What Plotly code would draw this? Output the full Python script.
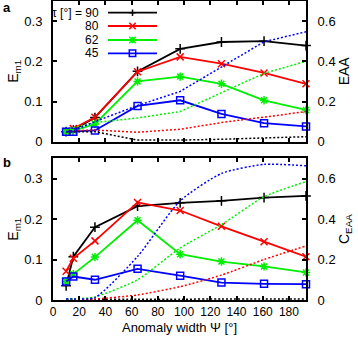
import plotly.graph_objects as go

# ---------------- data ----------------
psi = [10, 15.5, 32, 64.5, 97, 128.5, 161, 193]
tau_labels = ["τ [°] = 90", "80", "62", "45"]

# panel a: E_m1 (left, solid) and EAA (right, dotted)
em1_a_90 = [0.025, 0.029, 0.060, 0.175, 0.231, 0.248, 0.250, 0.239]
em1_a_80 = [0.025, 0.033, 0.061, 0.174, 0.211, 0.194, 0.171, 0.144]
em1_a_62 = [0.025, 0.027, 0.044, 0.150, 0.162, 0.144, 0.103, 0.079]
em1_a_45 = [0.025, 0.025, 0.028, 0.089, 0.103, 0.069, 0.046, 0.038]

eaa_90 = [0.050, 0.050, 0.050, 0.008, 0.008, 0.012, 0.017, 0.025]
eaa_80 = [0.050, 0.055, 0.058, 0.047, 0.062, 0.095, 0.122, 0.150]
eaa_62 = [0.050, 0.070, 0.095, 0.118, 0.150, 0.245, 0.340, 0.400]
eaa_45 = [0.050, 0.055, 0.100, 0.180, 0.250, 0.370, 0.497, 0.547]

# panel b: E_m1 (left, solid) and C_EAA (right, dotted)
em1_b_90 = [0.035, 0.107, 0.180, 0.232, 0.240, 0.245, 0.253, 0.257]
em1_b_80 = [0.071, 0.103, 0.146, 0.241, 0.221, 0.182, 0.144, 0.107]
em1_b_62 = [0.046, 0.064, 0.106, 0.197, 0.113, 0.095, 0.083, 0.068]
em1_b_45 = [0.046, 0.058, 0.050, 0.077, 0.060, 0.043, 0.040, 0.039]

ceaa_90 = [0.004, 0.004, 0.004, 0.004, 0.004, 0.005, 0.005, 0.005]
ceaa_80 = [0.000, 0.002, 0.005, 0.025, 0.066, 0.123, 0.200, 0.267]
ceaa_62 = [0.005, 0.005, 0.015, 0.100, 0.257, 0.372, 0.510, 0.585]
ceaa_45 = [0.005, 0.005, 0.012, 0.215, 0.490, 0.625, 0.670, 0.663]

x_ticks = [0, 20, 40, 60, 80, 100, 120, 140, 160, 180]

# ---------------- styling ----------------
colors = ["#000000", "#ff0000", "#00ee00", "#0000ff"]
symbols = ["cross-thin-open", "x-thin-open", "asterisk-open", "square-open"]
FONT = "Liberation Sans, Arial, sans-serif"

W, H = 358, 343
ML, MR, MT, MB = 53, 52, 1, 43
PW = W - ML - MR
PH = H - MT - MB


def xp(px):
    return (px - ML) / PW


def yp(py):
    return (H - MB - py) / PH


fig = go.Figure()

sets_a = [em1_a_90, em1_a_80, em1_a_62, em1_a_45]
sets_eaa = [eaa_90, eaa_80, eaa_62, eaa_45]
sets_b = [em1_b_90, em1_b_80, em1_b_62, em1_b_45]
sets_c = [ceaa_90, ceaa_80, ceaa_62, ceaa_45]

# dotted curves (behind)
for i in range(4):
    fig.add_trace(go.Scatter(x=psi, y=sets_eaa[i], xaxis="x", yaxis="y2", mode="lines",
                             line=dict(color=colors[i], width=1.5, dash="2px,2px"),
                             showlegend=False, cliponaxis=False))
    fig.add_trace(go.Scatter(x=psi, y=sets_c[i], xaxis="x2", yaxis="y4", mode="lines",
                             line=dict(color=colors[i], width=1.5, dash="2px,2px",
                                       shape="spline", smoothing=0.6),
                             showlegend=False, cliponaxis=False))

for i in range(4):
    fig.add_trace(go.Scatter(x=psi, y=sets_a[i], xaxis="x", yaxis="y", mode="lines+markers",
                             line=dict(color=colors[i], width=1.8),
                             marker=dict(symbol=symbols[i], size=7,
                                         line=dict(color=colors[i], width=1.5)),
                             name=tau_labels[i], showlegend=False, cliponaxis=False))
    fig.add_trace(go.Scatter(x=psi, y=sets_b[i], xaxis="x2", yaxis="y3", mode="lines+markers",
                             line=dict(color=colors[i], width=1.8),
                             marker=dict(symbol=symbols[i], size=7,
                                         line=dict(color=colors[i], width=1.5)),
                             name=tau_labels[i], showlegend=False, cliponaxis=False))

# ---------------- axes ----------------
dom_a = [yp(141.7), 1.0]
dom_b = [0.0, yp(158.3)]

common_x = dict(range=[0, 193], tickvals=x_ticks, ticks="inside", ticklen=4, tickwidth=1.5,
                tickcolor="black", showline=True, linecolor="black", linewidth=2, mirror="ticks",
                showgrid=False, zeroline=False, domain=[0, 1], automargin=False,
                tickfont=dict(family=FONT, size=12, color="black"))
fig.update_layout(
    xaxis=dict(common_x, anchor="y", showticklabels=False),
    xaxis2=dict(common_x, anchor="y3", showticklabels=True,
                title=dict(text="Anomaly width Ψ [°]", font=dict(family=FONT, size=13, color="black"),
                           standoff=4)),
)

common_yl = dict(range=[0, 0.35], tickvals=[0, 0.1, 0.2, 0.3], ticktext=["0", "0.1", "0.2", "0.3"],
                 ticks="inside", ticklen=4, tickwidth=1.5, tickcolor="black", automargin=False,
                 showline=True, linecolor="black", linewidth=2, showgrid=False, zeroline=False,
                 tickfont=dict(family=FONT, size=13, color="black"), ticklabelstandoff=6)
common_yr = dict(range=[0, 0.7], tickvals=[0, 0.2, 0.4, 0.6], ticktext=["0", "0.2", "0.4", "0.6"],
                 ticks="inside", ticklen=4, tickwidth=1.5, tickcolor="black", automargin=False,
                 showline=True, linecolor="black", linewidth=2, showgrid=False, zeroline=False,
                 side="right", tickfont=dict(family=FONT, size=13, color="black"), ticklabelstandoff=7)

fig.update_layout(
    yaxis=dict(common_yl, domain=dom_a, anchor="x",
               title=dict(text="E<sub>m1</sub>", font=dict(family=FONT, size=14, color="black"), standoff=2)),
    yaxis2=dict(common_yr, domain=dom_a, anchor="x", overlaying="y",
                title=dict(text="EAA", font=dict(family=FONT, size=14, color="black"), standoff=2)),
    yaxis3=dict(common_yl, domain=dom_b, anchor="x2",
                title=dict(text="E<sub>m1</sub>", font=dict(family=FONT, size=14, color="black"), standoff=2)),
    yaxis4=dict(common_yr, domain=dom_b, anchor="x2", overlaying="y3",
                title=dict(text="C<sub>EAA</sub>", font=dict(family=FONT, size=14, color="black"), standoff=1)),
)

# ---------------- key (gnuplot style: label, then sample line with symbol) ----------------
key_rows = [12.7, 26.0, 40.0, 53.3]
key_text_right = 100
key_line = (108, 157)
key_mid = (key_line[0] + key_line[1]) / 2
m = 3.2  # half-size of key symbols (px)
shapes = []
for i, (lab, py) in enumerate(zip(tau_labels, key_rows)):
    fig.add_annotation(text=lab, xref="paper", yref="paper", x=xp(key_text_right), y=yp(py),
                       xanchor="right", yanchor="middle", showarrow=False, borderpad=0,
                       font=dict(family=FONT, size=12, color="black"))
    c = colors[i]
    shapes.append(dict(type="line", xref="paper", yref="paper", x0=xp(key_line[0]), x1=xp(key_line[1]),
                       y0=yp(py), y1=yp(py), line=dict(color=c, width=1.8)))
    segs = []
    if i in (0, 2):
        segs += [((-m, 0), (m, 0)), ((0, -m), (0, m))]
    if i in (1, 2):
        segs += [((-m, -m), (m, m)), ((-m, m), (m, -m))]
    for (a, b) in segs:
        shapes.append(dict(type="line", xref="paper", yref="paper",
                           x0=xp(key_mid + a[0]), y0=yp(py + a[1]),
                           x1=xp(key_mid + b[0]), y1=yp(py + b[1]),
                           line=dict(color=c, width=1.5)))
    if i == 3:
        shapes.append(dict(type="rect", xref="paper", yref="paper",
                           x0=xp(key_mid - m), x1=xp(key_mid + m), y0=yp(py + m), y1=yp(py - m),
                           line=dict(color=c, width=1.5), fillcolor="rgba(0,0,0,0)"))
fig.update_layout(shapes=shapes)

# panel letters
fig.add_annotation(text="<b>a</b>", xref="paper", yref="paper", x=xp(2), y=yp(-1),
                   xanchor="left", yanchor="top", showarrow=False, borderpad=0,
                   font=dict(family=FONT, size=13, color="black"))
fig.add_annotation(text="<b>b</b>", xref="paper", yref="paper", x=xp(2), y=yp(162),
                   xanchor="left", yanchor="middle", showarrow=False, borderpad=0,
                   font=dict(family=FONT, size=13, color="black"))

fig.update_layout(width=W, height=H, margin=dict(l=ML, r=MR, t=MT, b=MB, autoexpand=False),
                  paper_bgcolor="white", plot_bgcolor="white", showlegend=False,
                  font=dict(family=FONT, color="black"))

fig.write_html("out.html", config={"displayModeBar": False},
               post_script="document.body.style.margin='0';document.body.style.overflow='hidden';")
